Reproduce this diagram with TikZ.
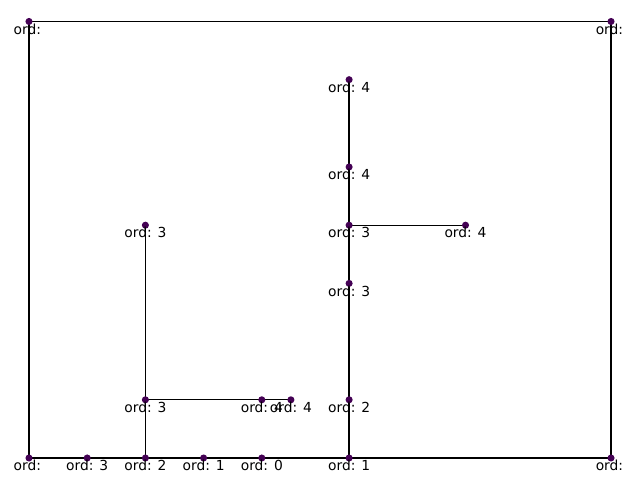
\documentclass[tikz,border=0pt]{standalone}
\usepackage{fontspec}
\setmainfont{DejaVu Sans}
\usepackage{xcolor}
\usepackage{tikz}
\usetikzlibrary{positioning}
\definecolor{ordpurple}{RGB}{68,1,84}

\begin{document}
\begin{tikzpicture}[x=1.4783cm, y=1.4783cm,
        pt/.style={circle, fill=ordpurple, inner sep=0pt, minimum size=0.18cm},
        lbl/.style={font=\fontsize{10}{12}\selectfont, inner sep=0pt, text=black},
        lblc/.style={lbl, xshift=-0.04cm},
        seg/.style={black, line width=0.9pt},
        label distance=-0.05cm]
      \useasboundingbox (-0.498,-0.378) rectangle (10.498,7.869);
      % corners
      \coordinate (c1) at (0,7.5);
      \coordinate (c2) at (10,7.5);
      \coordinate (c3) at (0,0);
      \coordinate (c4) at (10,0);
      % bottom row
      \coordinate (b3) at (1,0);
      \coordinate (b2) at (2,0);
      \coordinate (b1) at (3,0);
      \coordinate (b0) at (4,0);
      \coordinate (r1) at (5.5,0);
      % left branch
      \coordinate (l3a) at (2,1);
      \coordinate (l3b) at (2,4);
      \coordinate (l4a) at (4,1);
      \coordinate (l4b) at (4.5,1);
      % right branch
      \coordinate (r2) at (5.5,1);
      \coordinate (r3a) at (5.5,3);
      \coordinate (r3b) at (5.5,4);
      \coordinate (r4a) at (5.5,5);
      \coordinate (r4b) at (5.5,6.5);
      \coordinate (r4c) at (7.5,4);

      \draw[seg] (c1) -- (c2) -- (c4);
      \draw[seg] (c1) -- (c3) -- (b3) -- (b2) -- (b1) -- (b0) -- (r1) -- (c4);
      \draw[seg] (b2) -- (l3a) -- (l3b);
      \draw[seg] (l3a) -- (l4a) -- (l4b);
      \draw[seg] (r1) -- (r2) -- (r3a) -- (r3b) -- (r4a) -- (r4b);
      \draw[seg] (r3b) -- (r4c);

      \node[pt, label={[lblc]below:{ord:}}] (n1) at (c1) {};
      \node[pt, label={[lblc]below:{ord:}}] (n2) at (c2) {};
      \node[pt, label={[lblc]below:{ord:}}] (n3) at (c3) {};
      \node[pt, label={[lblc]below:{ord:}}] (n4) at (c4) {};
      \node[pt, label={[lbl]below:{ord: 3}}] (nb3) at (b3) {};
      \node[pt, label={[lbl]below:{ord: 2}}] (nb2) at (b2) {};
      \node[pt, label={[lbl]below:{ord: 1}}] (nb1) at (b1) {};
      \node[pt, label={[lbl]below:{ord: 0}}] (nb0) at (b0) {};
      \node[pt, label={[lbl]below:{ord: 1}}] (nr1) at (r1) {};
      \node[pt, label={[lbl]below:{ord: 3}}] (nl3a) at (l3a) {};
      \node[pt, label={[lbl]below:{ord: 3}}] (nl3b) at (l3b) {};
      \node[pt, label={[lbl]below:{ord: 4}}] (nl4a) at (l4a) {};
      \node[pt, label={[lbl]below:{ord: 4}}] (nl4b) at (l4b) {};
      \node[pt, label={[lbl]below:{ord: 2}}] (nr2) at (r2) {};
      \node[pt, label={[lbl]below:{ord: 3}}] (nr3a) at (r3a) {};
      \node[pt, label={[lbl]below:{ord: 3}}] (nr3b) at (r3b) {};
      \node[pt, label={[lbl]below:{ord: 4}}] (nr4a) at (r4a) {};
      \node[pt, label={[lbl]below:{ord: 4}}] (nr4b) at (r4b) {};
      \node[pt, label={[lbl]below:{ord: 4}}] (nr4c) at (r4c) {};
    \end{tikzpicture}
\end{document}
